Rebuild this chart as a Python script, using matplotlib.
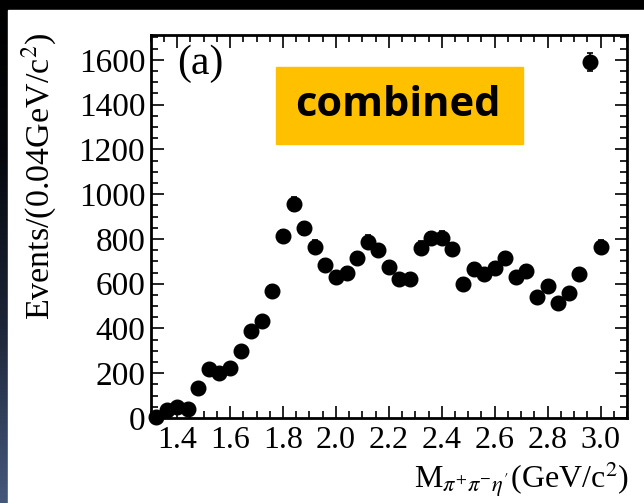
import numpy as np
import matplotlib
matplotlib.use("Agg")
import matplotlib.pyplot as plt
from matplotlib.colors import LinearSegmentedColormap
from matplotlib.patches import Rectangle
from matplotlib.ticker import MultipleLocator

plt.rcParams['font.family'] = ['Liberation Serif', 'DejaVu Serif']
plt.rcParams['mathtext.fontset'] = 'stix'

# bin centres (GeV/c^2), 0.04 GeV/c^2 bins
mass = [1.32, 1.36, 1.40, 1.44, 1.48, 1.52, 1.56, 1.60, 1.64, 1.68, 1.72,
        1.76, 1.80, 1.84, 1.88, 1.92, 1.96, 2.00, 2.04, 2.08, 2.12, 2.16,
        2.20, 2.24, 2.28, 2.32, 2.36, 2.40, 2.44, 2.48, 2.52, 2.56, 2.60,
        2.64, 2.68, 2.72, 2.76, 2.80, 2.84, 2.88, 2.92, 2.96, 3.00]
# events per bin
events = [5, 36, 48, 39, 133, 218, 200, 225, 301, 390, 435,
          569, 813, 956, 848, 766, 684, 632, 647, 713, 788, 751,
          676, 620, 623, 761, 803, 806, 754, 599, 667, 643, 669,
          716, 629, 658, 539, 590, 515, 557, 643, 1590, 766]
# statistical errors
errors = np.sqrt(events)

xticks = [1.4, 1.6, 1.8, 2.0, 2.2, 2.4, 2.6, 2.8, 3.0]
yticks = [0, 200, 400, 600, 800, 1000, 1200, 1400, 1600]

W, H = 644, 503
fig = plt.figure(figsize=(W / 100, H / 100), dpi=100)

# dark frame behind the white page
bg = fig.add_axes([0, 0, 1, 1])
bg.set_xlim(0, W)
bg.set_ylim(H, 0)
bg.axis('off')
cmap = LinearSegmentedColormap.from_list(
    'frame', [(0, '#000000'), (0.3, '#05070c'), (0.65, '#1c2538'), (1, '#45587c')])
grad = np.linspace(0, 1, 256).reshape(-1, 1)
bg.imshow(grad, cmap=cmap, extent=[0, W, H, 0], aspect='auto')
bg.add_patch(Rectangle((8, 10), W - 8, H - 10, color='white'))

ax = fig.add_axes([150.7 / W, 1 - 418 / H, (627 - 150.7) / W, (418 - 35) / H])
ax.errorbar(mass, events, yerr=errors, fmt='o', color='black', ms=10.5,
            capsize=2.5, elinewidth=1.2, capthick=1.2, clip_on=False, zorder=3)

ax.set_xlim(1.30, 3.10)
ax.set_ylim(0, 1711)
ax.set_xticks(xticks)
ax.set_xticklabels([f'{t:.1f}' for t in xticks])
ax.set_yticks(yticks)
ax.xaxis.set_minor_locator(MultipleLocator(0.05))
ax.yaxis.set_minor_locator(MultipleLocator(50))
ax.tick_params(which='both', direction='in', top=True, right=True, width=1.2)
ax.tick_params(which='major', length=9)
ax.tick_params(which='minor', length=5)
ax.tick_params(axis='x', labelsize=23, pad=6)
ax.tick_params(axis='y', labelsize=24, pad=4)
for s in ax.spines.values():
    s.set_linewidth(2)

ax.text(0.055, 0.975, '(a)', transform=ax.transAxes, fontsize=30,
        ha='left', va='top')

# "combined" tag
fig.patches.append(Rectangle((276 / W, 1 - 144 / H), (523 - 276) / W, (144 - 67) / H,
                             transform=fig.transFigure, color='#ffc000', zorder=5))
fig.text(398 / W, 1 - 106 / H, 'combined', family='Open Sans', weight='bold',
         fontsize=30, ha='center', va='center', zorder=6)

fig.text(39 / W, 1 - 33 / H, r'Events/(0.04GeV/c$^{2}$)', rotation=90,
         fontsize=24.5, ha='center', va='top')
fig.text(629 / W, 1 - 499 / H, r'M$_{\pi^{+}\pi^{-}\eta^{\prime}}$(GeV/c$^{2}$)',
         fontsize=23, ha='right', va='bottom')

fig.savefig('out.png', dpi=100)
